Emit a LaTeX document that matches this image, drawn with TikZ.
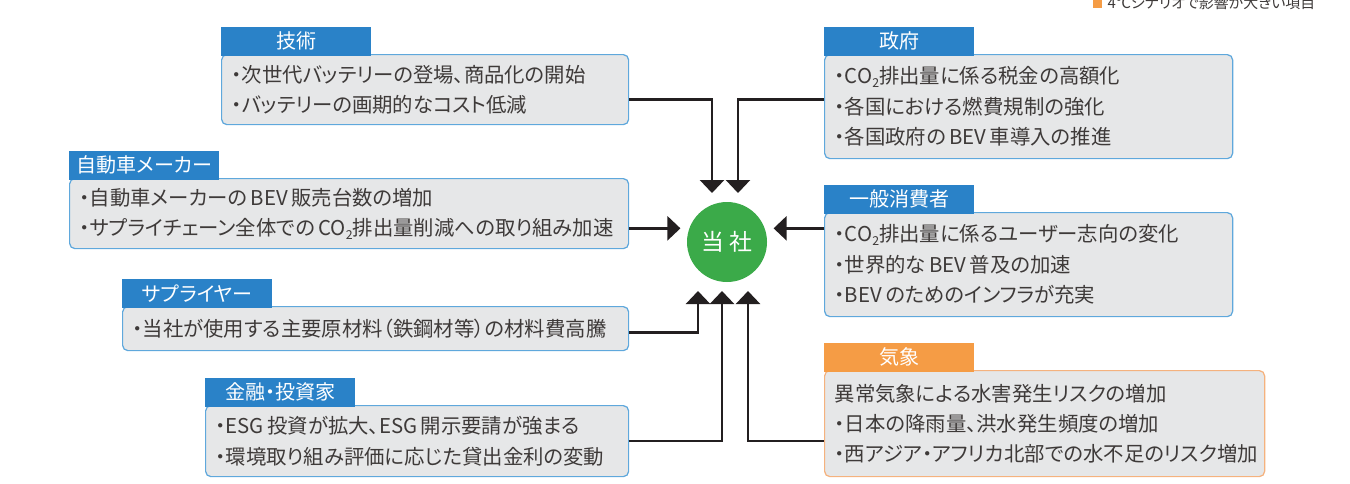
\documentclass[tikz,border=0pt]{standalone}
\usepackage{fontspec}
\setmainfont{Noto Sans CJK JP}[RawFeature=+palt]
\usepackage{tikz}
\usetikzlibrary{arrows.meta,positioning,calc}
\definecolor{tabblue}{HTML}{2A82C8}
\definecolor{taborange}{HTML}{F59C45}
\definecolor{boxgray}{HTML}{E6E7E8}
\definecolor{boxline}{HTML}{5FA8DC}
\definecolor{boxorange}{HTML}{F5B27E}
\definecolor{cgreen}{HTML}{3BAA49}
\definecolor{txtgray}{HTML}{3E3A39}
\definecolor{arrblack}{HTML}{231F20}
\newcommand{\cotwo}{CO\raisebox{-0.3ex}{\fontsize{7pt}{7pt}\selectfont 2}}

\begin{document}
\begin{tikzpicture}[
    factor/.style={rectangle, draw=boxline, fill=boxgray, line width=0.7pt, rounded corners=3pt, anchor=north west, text width=#1, inner xsep=0.2cm, inner ysep=0pt, text=txtgray, align=left, font=\fontsize{11.6pt}{17.3pt}\selectfont},
    tab/.style={rectangle, fill=tabblue, anchor=south west, minimum width=3cm, minimum height=0.58cm, inner sep=0pt, text=white, font=\fontsize{11.4pt}{12pt}\selectfont},
    arr/.style={-{Triangle[length=0.26cm,width=0.48cm]}, line width=1.5pt, draw=arrblack, shorten >=0.18cm}
]
    \useasboundingbox (0,0) rectangle (27,-9.66);

    % Legend
    \node[fill=taborange, minimum size=0.18cm, inner sep=0pt] (keymark) at (21.95,-0.06) {};
    \node[right=0.1cm of keymark, inner sep=0pt, text=txtgray, font=\fontsize{8.5pt}{9pt}\selectfont] (keytext) {4℃シナリオで影響が大きい項目};

    % Factors, left side
    \node[factor=7.74cm, minimum height=1.4cm] (tech) at (4.42,-1.08) {・次世代バッテリーの登場、商品化の開始\\・バッテリーの画期的なコスト低減};
    \node[tab] (techhead) at ([yshift=-0.04cm]tech.north west) {技術};
    \node[factor=10.78cm, minimum height=1.4cm] (maker) at (1.38,-3.56) {・自動車メーカーの\,BEV\,販売台数の増加\\・サプライチェーン全体での\,\cotwo 排出量削減への取り組み加速};
    \node[tab] (makerhead) at ([yshift=-0.04cm]maker.north west) {自動車メーカー};
    \node[factor=9.72cm, minimum height=0.88cm] (supplier) at (2.44,-6.12) {・当社が使用する主要原材料（鉄鋼材等）の材料費高騰};
    \node[tab] (supplierhead) at ([yshift=-0.04cm]supplier.north west) {サプライヤー};
    \node[factor=8.06cm, minimum height=1.42cm] (finance) at (4.10,-8.10) {・ESG\,投資が拡大、ESG\,開示要請が強まる\\・環境取り組み評価に応じた貸出金利の変動};
    \node[tab] (financehead) at ([yshift=-0.04cm]finance.north west) {金融・投資家};

    % Factors, right side
    \node[factor=7.76cm, minimum height=2.08cm] (gov) at (16.48,-1.08) {・\cotwo 排出量に係る税金の高額化\\・各国における燃費規制の強化\\・各国政府の\,BEV\,車導入の推進};
    \node[tab] (govhead) at ([yshift=-0.04cm]gov.north west) {政府};
    \node[factor=7.76cm, minimum height=2.08cm] (consumer) at (16.48,-4.24) {・\cotwo 排出量に係るユーザー志向の変化\\・世界的な\,BEV\,普及の加速\\・BEV\,のためのインフラが充実};
    \node[tab] (consumerhead) at ([yshift=-0.04cm]consumer.north west) {一般消費者};
    \node[factor=8.4cm, minimum height=2.12cm, draw=boxorange] (climate) at (16.48,-7.40) {異常気象による水害発生リスクの増加\\・日本の降雨量、洪水発生頻度の増加\\・西アジア・アフリカ北部での水不足のリスク増加};
    \node[tab, fill=taborange] (climatehead) at ([yshift=-0.04cm]climate.north west) {気象};

    % Company
    \node[circle, fill=cgreen, minimum size=1.6cm, inner sep=0pt, outer sep=0pt, text=white, font=\fontsize{13pt}{14pt}\selectfont] (company) at (14.54,-4.84) {当\hspace{3pt}社};

    % Arrows
    \draw[arr] ([yshift=-0.2cm]tech.east) coordinate (techout) -| ([xshift=-0.3cm]company.north);
    \draw[arr] (gov.west |- techout) -| ([xshift=0.22cm]company.north);
    \draw[arr] (maker.east |- company.160) -- (company.160);
    \draw[arr] (consumer.west |- company.20) -- (company.20);
    \draw[arr] ([yshift=-0.08cm]supplier.east) -| ([xshift=-0.58cm]company.south);
    \draw[arr] (finance.east) -| ([xshift=-0.1cm]company.south);
    \draw[arr] (climate.west |- finance.east) -| ([xshift=0.42cm]company.south);
\end{tikzpicture}
\end{document}
